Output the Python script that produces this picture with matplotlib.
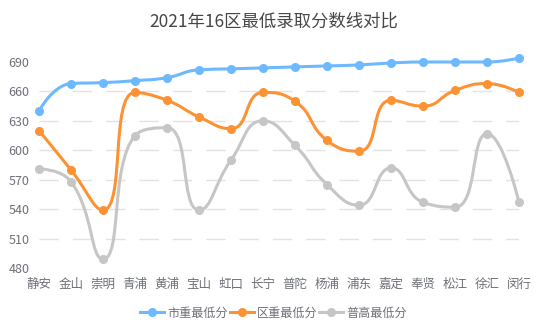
import matplotlib
matplotlib.use("Agg")
import matplotlib.pyplot as plt
from matplotlib.path import Path
from matplotlib.patches import PathPatch
from matplotlib.lines import Line2D
import numpy as np

plt.rcParams['font.family'] = ['Noto Sans CJK SC', 'DejaVu Sans']

title = "2021年16区最低录取分数线对比"
districts = ["静安", "金山", "崇明", "青浦", "黄浦", "宝山", "虹口", "长宁", "普陀",
             "杨浦", "浦东", "嘉定", "奉贤", "松江", "徐汇", "闵行"]
city_key = [640, 668, 669, 671, 674, 682, 683, 684, 685, 686, 687, 689, 690, 690, 690, 694]
district_key = [620, 580, 539, 659, 651, 634, 622, 659, 650, 610, 599, 651, 645, 661, 668, 659]
general = [581, 568, 489, 615, 623, 539, 590, 630, 605, 565, 544, 582, 547, 542, 617, 547]
series_names = ["市重最低分", "区重最低分", "普高最低分"]
yticks = [480, 510, 540, 570, 600, 630, 660, 690]

colors = ["#6DB9FF", "#FC9234", "#C6C6C6"]

W, H = 547, 334
fig = plt.figure(figsize=(W / 100, H / 100), dpi=100)
x0, x1, ytop, ybot = 39, 519, 62, 268
ax = fig.add_axes([x0 / W, 1 - ybot / H, (x1 - x0) / W, (ybot - ytop) / H])
ax.set_xlim(0, len(districts) - 1)
ax.set_ylim(480, 690)

px_x = (x1 - x0) / (len(districts) - 1)
px_y = (ybot - ytop) / (690 - 480)


def smooth_path(xs, ys, smooth=0.5):
    # ECharts-style smooth bezier computed in pixel space
    P = [(x * px_x, y * px_y) for x, y in zip(xs, ys)]
    n = len(P)
    verts = [P[0]]
    codes = [Path.MOVETO]
    cp0 = P[0]
    for k in range(1, n):
        x, y = P[k]
        px, py = P[k - 1]
        if k + 1 >= n:
            cp1 = (x, y)
            ncp0 = (x, y)
        else:
            nx, ny = P[k + 1]
            vx, vy = nx - px, ny - py
            l0 = np.hypot(x - px, y - py)
            l1 = np.hypot(nx - x, ny - y)
            r = l1 / (l0 + l1)
            ncx = x + vx * smooth * r
            ncy = y + vy * smooth * r
            ncx = min(ncx, max(nx, x)); ncy = min(ncy, max(ny, y))
            ncx = max(ncx, min(nx, x)); ncy = max(ncy, min(ny, y))
            vx, vy = ncx - x, ncy - y
            c1x = x - vx * l0 / l1
            c1y = y - vy * l0 / l1
            c1x = min(c1x, max(px, x)); c1y = min(c1y, max(py, y))
            c1x = max(c1x, min(px, x)); c1y = max(c1y, min(py, y))
            vx, vy = x - c1x, y - c1y
            ncx = x + vx * l1 / l0
            ncy = y + vy * l1 / l0
            cp1 = (c1x, c1y)
            ncp0 = (ncx, ncy)
        verts += [cp0, cp1, (x, y)]
        codes += [Path.CURVE4] * 3
        cp0 = ncp0
    verts = [(vx_ / px_x, vy_ / px_y) for vx_, vy_ in verts]
    return Path(verts, codes)


# grid lines
for t in yticks[1:-1]:
    ax.axhline(t, color="#E3E3E3", lw=1, ls=(0, (14, 10)), zorder=0)

xs = np.arange(len(districts))
for i, (vals, c) in enumerate(zip([city_key, district_key, general], colors)):
    z = 5 - i
    patch = PathPatch(smooth_path(xs, vals), facecolor="none", edgecolor=c, lw=2.2,
                      zorder=z, clip_on=False, capstyle="round", joinstyle="round")
    ax.add_patch(patch)
    ax.plot(xs, vals, ls="none", marker="o", ms=5.5, color=c, zorder=z, clip_on=False)

for s in ax.spines.values():
    s.set_visible(False)
ax.set_xticks(xs)
ax.set_xticklabels(districts, fontsize=9, color="#6E7079")
ax.set_yticks(yticks)
ax.set_yticklabels([str(t) for t in yticks], fontsize=9, color="#6E7079")
ax.tick_params(axis="both", length=0)
ax.tick_params(axis="x", pad=7)
ax.tick_params(axis="y", pad=7)

fig.text(0.5, 1 - 22 / H, title, ha="center", va="center", fontsize=12.5, color="#464646")

handles = [Line2D([0], [0], color=c, lw=2.2, marker="o", ms=5.5) for c in colors]
fig.legend(handles, series_names, loc="center", bbox_to_anchor=(0.5, 1 - 313 / H),
           ncol=3, frameon=False, fontsize=8.7, handlelength=2.0, handletextpad=0.25,
           columnspacing=0.15, labelcolor="#6E7079")

fig.savefig("out.png", dpi=100)
